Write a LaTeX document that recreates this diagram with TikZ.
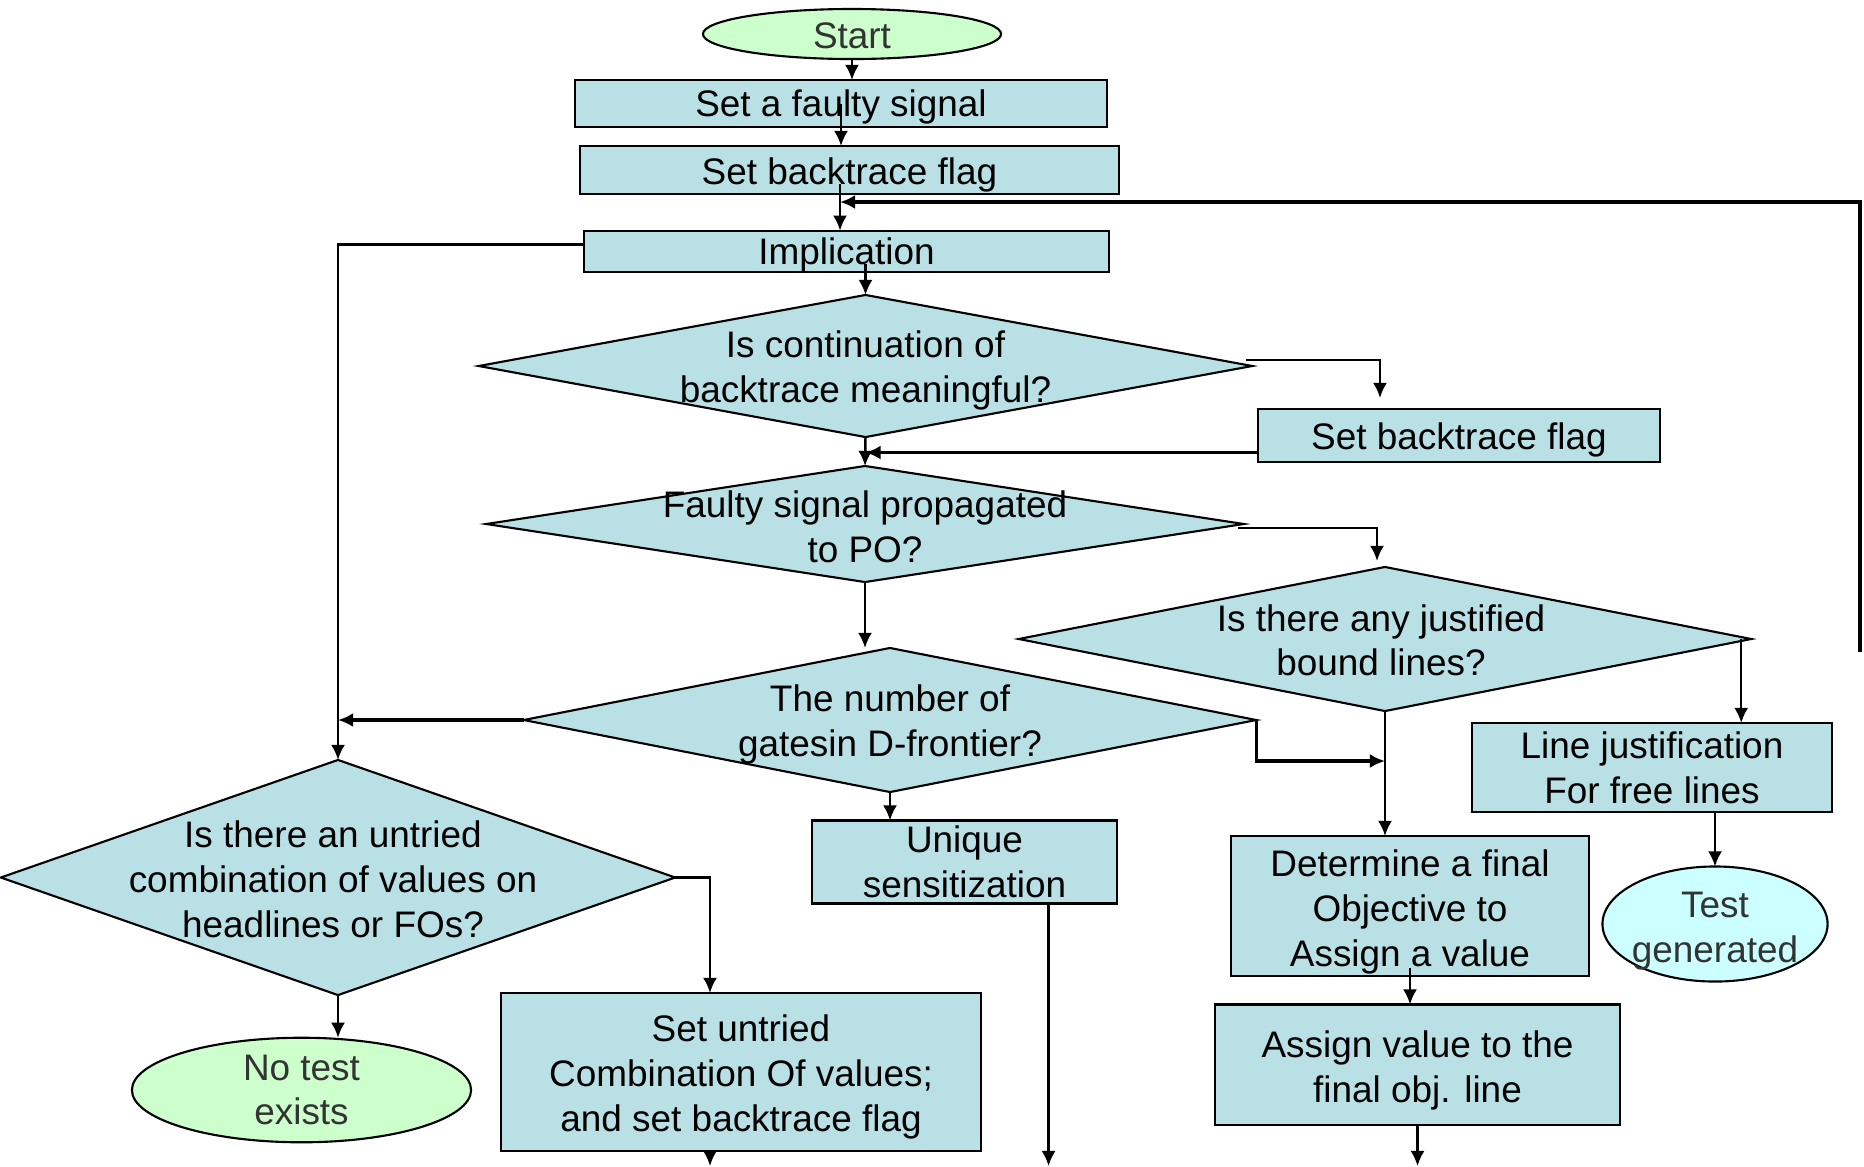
\documentclass[tikz,border=0pt]{standalone}
\usepackage{fontspec}
\setmainfont{Liberation Sans}
\usetikzlibrary{shapes.geometric,arrows.meta}
\definecolor{boxblue}{HTML}{B9E0E4}
\definecolor{termgreen}{HTML}{CCFFCC}
\definecolor{termcyan}{HTML}{CCFFFF}
\definecolor{termtext}{HTML}{333333}
\newcommand{\dropline}[1]{\rule{0pt}{#1}}
\tikzset{
  txtfont/.style={font=\fontsize{10.5}{12.7}\selectfont},
  drop/.style={execute at begin node={\dropline{#1}}},
  stepbox/.style={draw,line width=0.6pt,fill=boxblue,inner sep=0pt,outer sep=0pt,
    align=center,txtfont},
  term/.style={ellipse,draw,line width=0.6pt,inner sep=0pt,outer sep=0pt,
    align=center,text=termtext,txtfont},
  decision/.style={diamond,draw,line width=0.6pt,fill=boxblue,inner sep=0pt,outer sep=0pt},
  qtext/.style={align=center,inner sep=0pt,txtfont},
  flow/.style={->,line width=0.7pt},
  flowb/.style={->,line width=0.9pt}
}
\begin{document}
\begin{tikzpicture}[x=0.01cm,y=-0.01cm,>={Latex[length=4.3pt,width=4pt]}]
 \useasboundingbox (0,0) rectangle (1864,1166);
 \fill[white] (0,0) rectangle (1864,1166);
 % main column
 \node[term,fill=termgreen,minimum width=2.98cm,minimum height=0.50cm,drop=8.3pt] (start) at (852,34) {Start};
 \node[stepbox,minimum width=5.32cm,minimum height=0.47cm,drop=9.7pt] (setf) at (841,103.5) {Set a faulty signal};
 \node[stepbox,minimum width=5.39cm,minimum height=0.48cm,drop=10.3pt] (setb) at (849.5,170) {Set backtrace flag};
 \node[stepbox,minimum width=5.25cm,minimum height=0.41cm,drop=9.7pt] (impl) at (846.5,251.5) {Implication};
 \node[decision,minimum width=7.73cm,minimum height=1.42cm] (cont) at (865.5,366) {};
 \node[qtext,yshift=-1.35pt] (contt) at (cont) {Is continuation of\\backtrace meaningful?};
 \node[stepbox,minimum width=4.02cm,minimum height=0.53cm,drop=10.3pt] (setb2) at (1459,435.5) {Set backtrace flag};
 \node[decision,minimum width=7.57cm,minimum height=1.16cm] (prop) at (865,524) {};
 \node[qtext,yshift=-0.7pt] (propt) at (prop) {Faulty signal propagated\\to PO?};
 \node[decision,minimum width=7.32cm,minimum height=1.44cm] (just) at (1385,639) {};
 \node[qtext,yshift=-0.35pt] (justt) at ([xshift=-0.04cm]just.center) {Is there any justified\\bound lines?};
 \node[decision,minimum width=7.32cm,minimum height=1.44cm] (dfr) at (890,720) {};
 \node[qtext,yshift=-1.35pt] (dfrt) at (dfr) {The number of\\gatesin D-frontier?};
 \node[stepbox,minimum width=3.60cm,minimum height=0.89cm] (linej) at (1652,767.5) {Line justification\\For free lines};
 % lower row
 \node[decision,minimum width=6.74cm,minimum height=2.35cm] (untr) at (338,877.5) {};
 \node[qtext,yshift=-0.5pt] (untrt) at ([xshift=-0.05cm]untr.center) {Is there an untried\\combination of values on\\headlines or FOs?};
 \node[stepbox,minimum width=3.05cm,minimum height=0.83cm] (uniq) at (964.5,862) {Unique\\sensitization};
 \node[stepbox,minimum width=3.57cm,minimum height=1.40cm] (obj) at (1410,906) {\dropline{10.9pt}Determine a final\\Objective to\\Assign a value};
 \node[term,fill=termcyan,minimum width=2.25cm,minimum height=1.15cm] (tgen) at (1715,924) {};
 \node[qtext,text=termtext,yshift=-2pt] (tgent) at (tgen) {Test\\generated};
 \node[stepbox,minimum width=4.80cm,minimum height=1.58cm] (comb) at (741,1072) {\dropline{10.4pt}Set untried\\Combination Of values;\\and set backtrace flag};
 \node[term,fill=termgreen,minimum width=3.39cm,minimum height=1.045cm] (notest) at (301.5,1090) {No test\\exists};
 \node[stepbox,minimum width=4.05cm,minimum height=1.20cm] (assign) at (1417.5,1064.5) {\dropline{11pt}Assign value to the\\final obj. line};
 % connector ends
 \coordinate (back) at (840,202);
 \coordinate (loop) at (1860,652);
 \coordinate (join) at (1385,761);
 \coordinate (bottom) at (0,1166);
 \coordinate (sbout) at ([yshift=-0.17cm]setb2.west);
 \coordinate (justr) at ([xshift=-0.1cm]just.east);
 \coordinate (uout) at ([xshift=0.84cm]uniq.south);
 \coordinate (cout) at ([xshift=-0.31cm]comb.south);
 % connectors
 \draw[flow] (start.south) -- (start.south |- setf.north);
 \draw[flow] (setf.center) -- (setf.center |- setb.north);
 \draw[flow,shorten <=-0.1cm] (setb.south -| back) -- (impl.north -| back);
 \draw[flowb] (loop) |- (back);
 \draw[flow,shorten <=-0.08cm] (impl.south -| cont.north) -- (cont.north);
 \draw[flow] ([yshift=0.07cm]impl.west) -| (untr.north);
 \draw[flow] ([xshift=-0.06cm,yshift=0.06cm]cont.east) -| ([xshift=-0.79cm,yshift=0.11cm]setb2.north);
 \draw[flowb] (sbout) -- (sbout -| cont.south);
 \draw[flow] (cont.south) -- (prop.north);
 \draw[flow] ([xshift=-0.06cm,yshift=-0.04cm]prop.east) -| ([xshift=-0.08cm,yshift=0.06cm]just.north);
 \draw[flow] (prop.south) -- (prop.south |- dfr.north);
 \draw[flowb] (dfr.west) -- (dfr.west -| untr.north);
 \draw[flowb] (dfr.east) |- (join);
 \draw[flow] (just.south) -- (just.south |- obj.north);
 \draw[flow] (justr) -- (justr |- linej.north);
 \draw[flow] (linej.south -| tgen.north) -- (tgen.north);
 \draw[flow] (dfr.south) -- (dfr.south |- uniq.north);
 \draw[flow] (uout) -- (uout |- bottom);
 \draw[flow] (untr.east) -| ([xshift=-0.31cm]comb.north);
 \draw[flow] (untr.south) -- (untr.south |- notest.north);
 \draw[flow] (cout) -- (cout |- bottom);
 \draw[flow,shorten <=-0.08cm] (obj.south) -- (obj.south |- assign.north);
 \draw[flow] (assign.south) -- (assign.south |- bottom);
\end{tikzpicture}
\end{document}
